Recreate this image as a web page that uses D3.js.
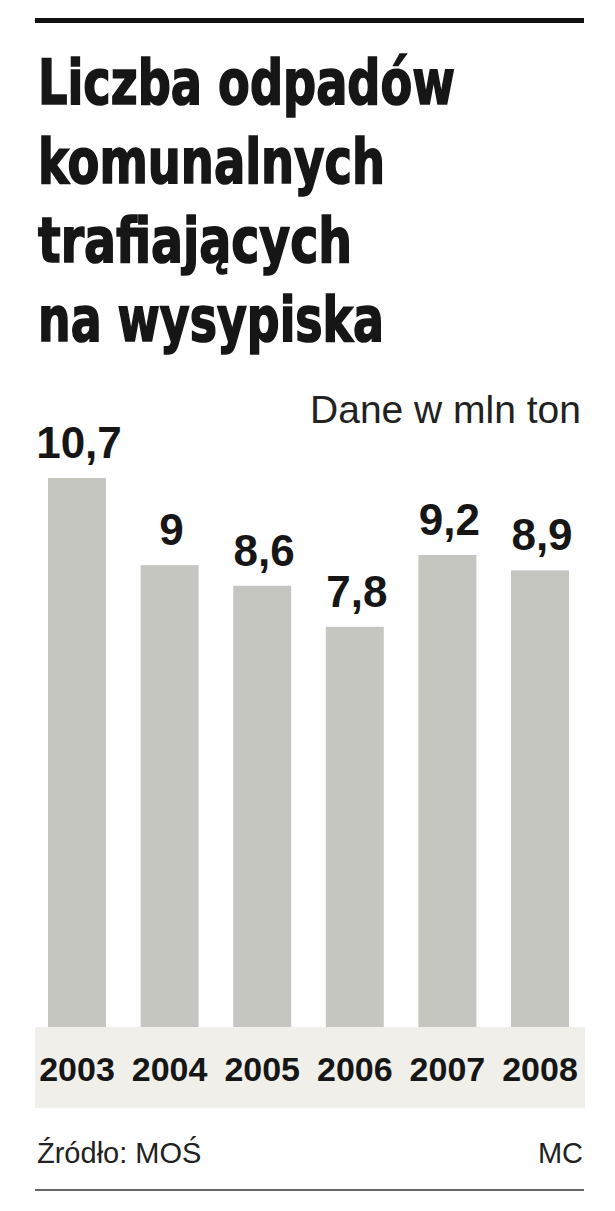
<!DOCTYPE html>
<html>
<head>
<meta charset="utf-8">
<script src="https://cdn.jsdelivr.net/npm/d3@7"></script>
<style>
  html, body { margin: 0; padding: 0; background: #fff; }
  svg { display: block; }
</style>
</head>
<body>
<svg id="chart" width="615" height="1211"></svg>
<script>
const titleLines = ["Liczba odpadów", "komunalnych", "trafiających", "na wysypiska"];
const titleWidths = [417, 347, 314, 346];
const unitLabel = "Dane w mln ton";
const years = ["2003", "2004", "2005", "2006", "2007", "2008"];
const values = [10.7, 9, 8.6, 7.8, 9.2, 8.9];
const sourceLabel = "Źródło: MOŚ";
const authorLabel = "MC";

const svg = d3.select("#chart");
const W = 615;
const left = 35, right = 584;
const baseY = 1027;

// top rule
svg.append("rect").attr("x", left).attr("y", 18).attr("width", right - left).attr("height", 5).attr("fill", "#111");

// title
const titleFont = "'Liberation Sans Narrow', 'DejaVu Sans Condensed', 'Liberation Sans', sans-serif";
titleLines.forEach((t, i) => {
  svg.append("text")
    .attr("x", 38).attr("y", 104 + i * 79)
    .attr("font-family", titleFont)
    .attr("font-weight", "bold")
    .attr("font-size", 62)
    .attr("fill", "#161616")
    .attr("stroke", "#161616").attr("stroke-width", 1.6)
    .attr("textLength", titleWidths[i])
    .attr("lengthAdjust", "spacingAndGlyphs")
    .text(t);
});

// unit label
svg.append("text")
  .attr("x", 581).attr("y", 423)
  .attr("text-anchor", "end")
  .attr("font-family", "'Liberation Sans', Arial, sans-serif")
  .attr("font-size", 39)
  .attr("fill", "#222")
  .text(unitLabel);

// scales
const x = d3.scaleBand().domain(years).range([30.7, 586.3]).paddingInner(0.374).paddingOuter(0.187);
const y = d3.scaleLinear().domain([0, 10.7]).range([baseY, 478]);

// bottom band
svg.append("rect").attr("x", left).attr("y", baseY).attr("width", right + 1 - left).attr("height", 1108 - baseY).attr("fill", "#f0efe9");

// bars
svg.selectAll("rect.bar").data(values).join("rect")
  .attr("class", "bar")
  .attr("x", (d, i) => x(years[i]))
  .attr("y", d => y(d))
  .attr("width", x.bandwidth())
  .attr("height", d => baseY - y(d))
  .attr("fill", "#c6c6c1");

// value labels
const fmt = v => String(v).replace(".", ",");
svg.selectAll("text.val").data(values).join("text")
  .attr("class", "val")
  .attr("x", (d, i) => x(years[i]) + x.bandwidth() / 2 + 2)
  .attr("y", d => y(d) - 20)
  .attr("text-anchor", "middle")
  .attr("font-family", "'Liberation Sans', Arial, sans-serif")
  .attr("font-weight", "bold")
  .attr("font-size", 44)
  .attr("fill", "#161616")
  .text(fmt);

// year axis labels
const xAxis = d3.axisBottom(x).tickSize(0).tickPadding(0);
const ax = svg.append("g").attr("transform", `translate(0, 1081)`).call(xAxis);
ax.select(".domain").remove();
ax.selectAll("text")
  .attr("dy", 0).attr("y", 0)
  .attr("font-family", "'Liberation Sans', Arial, sans-serif")
  .attr("font-weight", "bold")
  .attr("font-size", 34)
  .attr("fill", "#161616");

// footer
svg.append("text")
  .attr("x", 37).attr("y", 1163)
  .attr("font-family", "'Liberation Sans', Arial, sans-serif")
  .attr("font-size", 29)
  .attr("fill", "#222")
  .text(sourceLabel);
svg.append("text")
  .attr("x", 583).attr("y", 1163)
  .attr("text-anchor", "end")
  .attr("font-family", "'Liberation Sans', Arial, sans-serif")
  .attr("font-size", 29)
  .attr("fill", "#222")
  .text(authorLabel);
svg.append("rect").attr("x", left).attr("y", 1189).attr("width", right - left).attr("height", 2).attr("fill", "#666");
</script>
</body>
</html>
